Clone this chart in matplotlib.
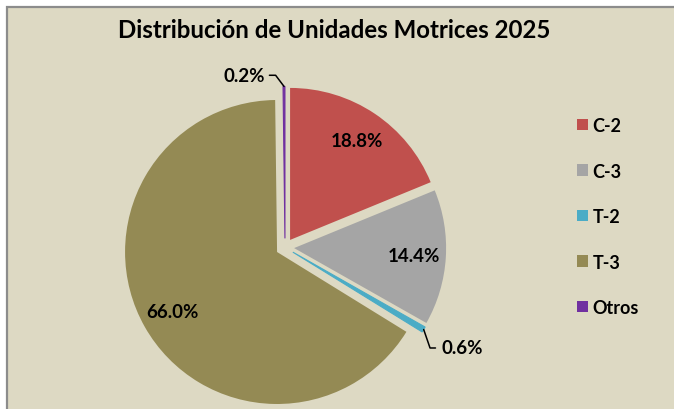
import numpy as np
import matplotlib.pyplot as plt
from matplotlib.patches import Rectangle, Patch

plt.rcParams['font.family'] = ['Lato', 'DejaVu Sans']

categories = ["C-2", "C-3", "T-2", "T-3", "Otros"]
shares = [18.8, 14.4, 0.6, 66.0, 0.2]
colors = ["#C0504D", "#A5A5A5", "#4BACC6", "#948A54", "#7030A0"]
title = "Distribución de Unidades Motrices 2025"

bg = "#DDD9C3"
explode_amt = 0.06

fig = plt.figure(figsize=(6.74, 4.10), dpi=100, facecolor="white")
W, H = 674, 410

# chart area with grey border (only left/top visible)
fig.patches.append(Rectangle((7 / W, -0.05), 1.1, (410 - 8) / H + 0.05,
                             transform=fig.transFigure, facecolor=bg,
                             edgecolor="#8C8C8C", linewidth=1.6, zorder=-5))

# pie axes: centre at (285, 248.5) px, radius 152 px
R = 152
cx, cy = 285, 410 - 248.5
lim = 1.3
ax = fig.add_axes([(cx - lim * R) / W, (cy - lim * R) / H, 2 * lim * R / W, 2 * lim * R / H])
ax.set_zorder(2)

wedges, _ = ax.pie(shares, colors=colors, startangle=90, counterclock=False,
                   explode=[explode_amt] * len(shares), radius=1,
                   wedgeprops=dict(linewidth=0))
for w, v, c in zip(wedges, shares, colors):
    w.set_clip_on(False)
    if v < 1:
        # tiny slices drawn a bit thicker, like Excel does
        w.set_edgecolor(c)
        w.set_linewidth(0.8)
ax.set_xlim(-lim, lim)
ax.set_ylim(-lim, lim)
ax.axis("off")

# labels
total = sum(shares)
start = 90.0
for v in shares:
    span = v / total * 360
    mid = np.deg2rad(start - span / 2)
    start -= span
    d = np.array([np.cos(mid), np.sin(mid)])
    lbl = f"{v:.1f}%"
    if v > 5:
        pos = d * (0.79 + explode_amt)
        ax.text(pos[0], pos[1], lbl, ha="center", va="center",
                fontsize=13.5, fontweight="bold", color="black")
    else:
        edge = d * (1 + explode_amt)
        if d[1] > 0:
            ax.annotate(lbl, xy=edge, xytext=(-13.5, 8), textcoords="offset points",
                        ha="right", va="center", fontsize=13.5, fontweight="bold",
                        annotation_clip=False,
                        arrowprops=dict(arrowstyle="-", color="black", lw=1.1,
                                        shrinkA=1, shrinkB=0,
                                        connectionstyle="angle,angleA=0,angleB=127,rad=0"))
        else:
            ax.annotate(lbl, xy=edge, xytext=(12.5, -13.3), textcoords="offset points",
                        ha="left", va="center", fontsize=13.5, fontweight="bold",
                        annotation_clip=False,
                        arrowprops=dict(arrowstyle="-", color="black", lw=1.1,
                                        shrinkA=2, shrinkB=0,
                                        connectionstyle="angle,angleA=0,angleB=109,rad=0"))

fig.text(334 / W, 1 - 31 / H, title, ha="center", va="center",
         fontsize=17.3, fontweight="bold")

handles = [Patch(facecolor=c, edgecolor="none") for c in colors]
fig.legend(handles, categories, loc="upper left",
           bbox_to_anchor=(577 / W, 1 - 118 / H), frameon=False,
           prop=dict(size=13, weight="bold"), handlelength=0.6,
           handleheight=0.6, handletextpad=0.25, labelspacing=1.58,
           borderaxespad=0, borderpad=0)

fig.savefig("out.png", dpi=100, facecolor="white")
